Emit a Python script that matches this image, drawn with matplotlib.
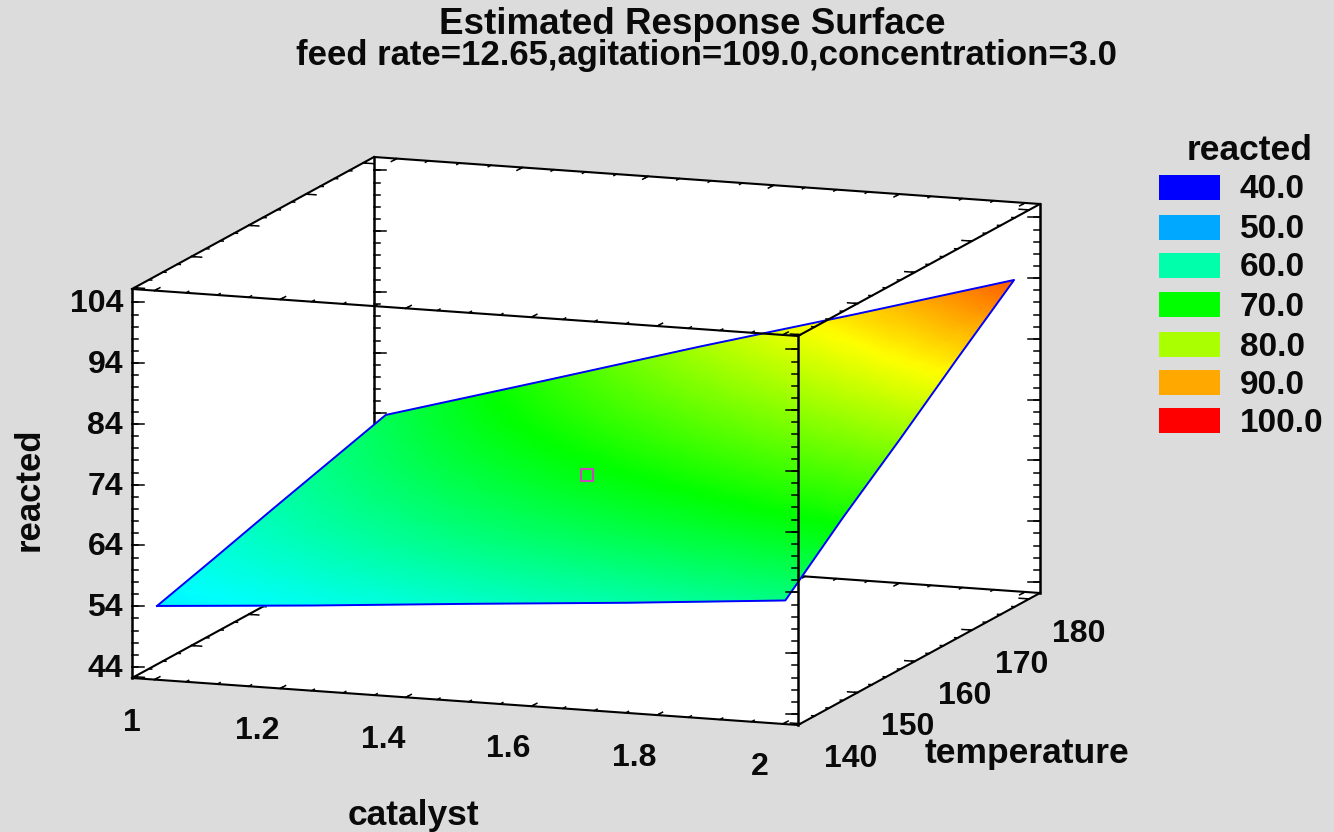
import numpy as np
import matplotlib
matplotlib.use('Agg')
import matplotlib.pyplot as plt
import matplotlib.tri as mtri
from matplotlib.colors import LinearSegmentedColormap, Normalize
from matplotlib.patches import Polygon, Rectangle

# data
catalyst = [1.0, 1.25, 1.5, 1.75, 2.0]
temperature = [140, 150, 160, 170, 180]
# rows follow catalyst, columns follow temperature
reacted = [
    [54.1, 56.8, 59.6, 62.3, 65.0],
    [56.0, 60.2, 64.3, 68.4, 72.4],
    [58.1, 63.6, 69.0, 74.4, 79.9],
    [60.1, 66.9, 73.6, 80.3, 87.1],
    [62.3, 70.7, 78.5, 86.6, 94.5],
]
center_point = (1.5, 160, 69.0)

catalyst_ticks = [1, 1.2, 1.4, 1.6, 1.8, 2]
catalyst_labels = ['1', '1.2', '1.4', '1.6', '1.8', '2']
temperature_ticks = [140, 150, 160, 170, 180]
reacted_ticks = [44, 54, 64, 74, 84, 94, 104]
legend_levels = [40.0, 50.0, 60.0, 70.0, 80.0, 90.0, 100.0]

title = 'Estimated Response Surface'
subtitle = 'feed rate=12.65,agitation=109.0,concentration=3.0'

# axis ranges of the box
CAT_RANGE = (0.964, 2.024)
TEMP_RANGE = (139.58, 181.9)
Z_RANGE = (42.2, 106.2)

# box geometry in pixels (parallel projection)
ORIGIN = np.array([132.0, 678.0])
CAT_VEC = np.array([666.0, 47.0])
TEMP_VEC = np.array([242.0, -132.0])
Z_VEC = np.array([0.0, -389.0])

BG = '#DCDCDC'
FONT = 'Liberation Sans'

cmap = LinearSegmentedColormap.from_list(
    'surf', [(0, 0, 1), (0, 1, 1), (0, 1, 0), (1, 1, 0), (1, 0, 0)])
norm = Normalize(40, 100)


def project(c, t, z):
    u = (np.asarray(c, float) - CAT_RANGE[0]) / (CAT_RANGE[1] - CAT_RANGE[0])
    v = (np.asarray(t, float) - TEMP_RANGE[0]) / (TEMP_RANGE[1] - TEMP_RANGE[0])
    w = (np.asarray(z, float) - Z_RANGE[0]) / (Z_RANGE[1] - Z_RANGE[0])
    x = ORIGIN[0] + u * CAT_VEC[0] + v * TEMP_VEC[0] + w * Z_VEC[0]
    y = ORIGIN[1] + u * CAT_VEC[1] + v * TEMP_VEC[1] + w * Z_VEC[1]
    return x, y


def edge(ax, a, b, lw=1.5, zorder=2):
    xa, ya = project(*a)
    xb, yb = project(*b)
    ax.plot([xa, xb], [ya, yb], color='black', lw=lw, zorder=zorder,
            solid_capstyle='projecting')


def ticks(ax, points, direction, length, zorder=2):
    d = np.array(direction, float)
    d = d / np.hypot(*d)
    for p in points:
        x, y = project(*p)
        ax.plot([x, x + d[0] * length], [y, y + d[1] * length],
                color='black', lw=1.1, zorder=zorder)


fig = plt.figure(figsize=(13.34, 8.32), dpi=100, facecolor=BG)
ax = fig.add_axes([0, 0, 1, 1])
ax.set_xlim(0, 1334)
ax.set_ylim(832, 0)
ax.axis('off')

c0, c1 = CAT_RANGE
t0, t1 = TEMP_RANGE
z0, z1 = Z_RANGE

# white body of the box
outline = [project(c0, t0, z0), project(c1, t0, z0), project(c1, t1, z0),
           project(c1, t1, z1), project(c0, t1, z1), project(c0, t0, z1)]
ax.add_patch(Polygon(outline, closed=True, facecolor='white', edgecolor='none', zorder=0))

# tick positions
cat_minor = np.arange(1.0, 2.01, 0.05)
temp_minor = np.arange(140, 180.1, 2.5)
z_minor = np.arange(44, 106, 2)

# hidden side of the box, goes under the surface
edge(ax, (c0, t1, z0), (c0, t1, z1), lw=1.8)
edge(ax, (c0, t0, z0), (c0, t1, z0))
edge(ax, (c0, t1, z0), (c1, t1, z0))
edge(ax, (c0, t1, z1), (c1, t1, z1))
edge(ax, (c1, t1, z0), (c1, t1, z1), lw=1.8)

for z in (z0, z1):
    ticks(ax, [(c, t1, z) for c in cat_minor], (-242, 133), 3)
    ticks(ax, [(c, t1, z) for c in catalyst_ticks], (-242, 133), 6)
    ticks(ax, [(c0, t, z) for t in temp_minor], (1, 0.07), 3)
    ticks(ax, [(c0, t, z) for t in temperature_ticks], (1, 0.07), 10)
ticks(ax, [(c0, t1, z) for z in z_minor], (1, 0), 6)
ticks(ax, [(c0, t1, z) for z in reacted_ticks], (1, 0), 12)
ticks(ax, [(c1, t1, z) for z in z_minor], (-1, 0), 6)
ticks(ax, [(c1, t1, z) for z in reacted_ticks], (-1, 0), 12)

# surface, subdivided only so the colours blend through the colormap
cc, tt = np.meshgrid(catalyst, temperature, indexing='ij')
zz = np.array(reacted)
# scale temperature down so the triangles are not long and thin
base = mtri.Triangulation(cc.ravel(), tt.ravel() / 40.0)
refiner = mtri.UniformTriRefiner(base)
fine, fine_z = refiner.refine_field(zz.ravel(), subdiv=4)
fx, fy = project(fine.x, fine.y * 40.0, fine_z)
ax.tripcolor(fx, fy, fine.triangles, fine_z, shading='gouraud', cmap=cmap, norm=norm, zorder=3)

sx, sy = project(cc, tt, zz)
bx = np.r_[sx[0, :], sx[:, -1], sx[-1, ::-1], sx[::-1, 0]]
by = np.r_[sy[0, :], sy[:, -1], sy[-1, ::-1], sy[::-1, 0]]
ax.plot(bx, by, color='#0000FF', lw=1.4, zorder=4)

# center marker
mx, my = project(*center_point)
ax.plot([mx + 1], [my], marker='s', ms=8.5, mfc='none', mec='#C848B8', mew=1.5, zorder=5)

# front side of the box, goes over the surface
edge(ax, (c0, t0, z0), (c0, t0, z1), lw=1.8, zorder=6)
edge(ax, (c1, t0, z0), (c1, t0, z1), lw=1.8, zorder=6)
edge(ax, (c0, t0, z0), (c1, t0, z0), zorder=6)
edge(ax, (c0, t0, z1), (c1, t0, z1), zorder=6)
edge(ax, (c0, t0, z1), (c0, t1, z1), zorder=6)
edge(ax, (c1, t0, z1), (c1, t1, z1), zorder=6)
edge(ax, (c1, t0, z0), (c1, t1, z0), zorder=6)

for z in (z0, z1):
    ticks(ax, [(c, t0, z) for c in cat_minor], (242, -133), 3, zorder=6)
    ticks(ax, [(c, t0, z) for c in catalyst_ticks], (242, -133), 6, zorder=6)
    ticks(ax, [(c1, t, z) for t in temp_minor], (-1, -0.07), 3, zorder=6)
    ticks(ax, [(c1, t, z) for t in temperature_ticks], (-1, -0.07), 10, zorder=6)
ticks(ax, [(c0, t0, z) for z in z_minor], (1, 0), 6, zorder=6)
ticks(ax, [(c0, t0, z) for z in reacted_ticks], (1, 0), 12, zorder=6)
ticks(ax, [(c1, t0, z) for z in z_minor], (-1, 0), 6, zorder=6)
ticks(ax, [(c1, t0, z) for z in reacted_ticks], (-1, 0), 12, zorder=6)

txt = dict(family=FONT, fontweight='bold', color='#0A0A0A', ha='center', va='center')

# tick labels
for val in reacted_ticks:
    x, y = project(c0, t0, val)
    ax.text(x - 9, y + 2, str(val), fontsize=23, **{**txt, 'ha': 'right'})
for val, lab in zip(catalyst_ticks, catalyst_labels):
    x, y = project(val, t0, z0)
    ax.text(x - 23, y + 43, lab, fontsize=23, **txt)
for val in temperature_ticks:
    x, y = project(c1, val, z0)
    ax.text(x + 50, y + 35, str(val), fontsize=23, **txt)

# axis titles
ax.text(29, 489, 'reacted', rotation=90, fontsize=25, **txt)
ax.text(413, 815, 'catalyst', fontsize=25.5, **txt)
ax.text(1027, 753, 'temperature', fontsize=25.5, **txt)

# chart title
ax.text(692, 25, title, fontsize=26.5, **txt)
ax.text(706, 56, subtitle, fontsize=25, **txt)

# legend
ax.text(1250, 151, 'reacted', fontsize=25.5, **txt)
legend_y = [175, 215, 253, 292, 332, 370, 408]
for level, y in zip(legend_levels, legend_y):
    ax.add_patch(Rectangle((1159, y), 61, 25, facecolor=cmap(norm(level)), edgecolor='none'))
    ax.text(1240, y + 15, f'{level:.1f}', fontsize=24, **{**txt, 'ha': 'left'})

plt.savefig('out.png', dpi=100, facecolor=BG)
